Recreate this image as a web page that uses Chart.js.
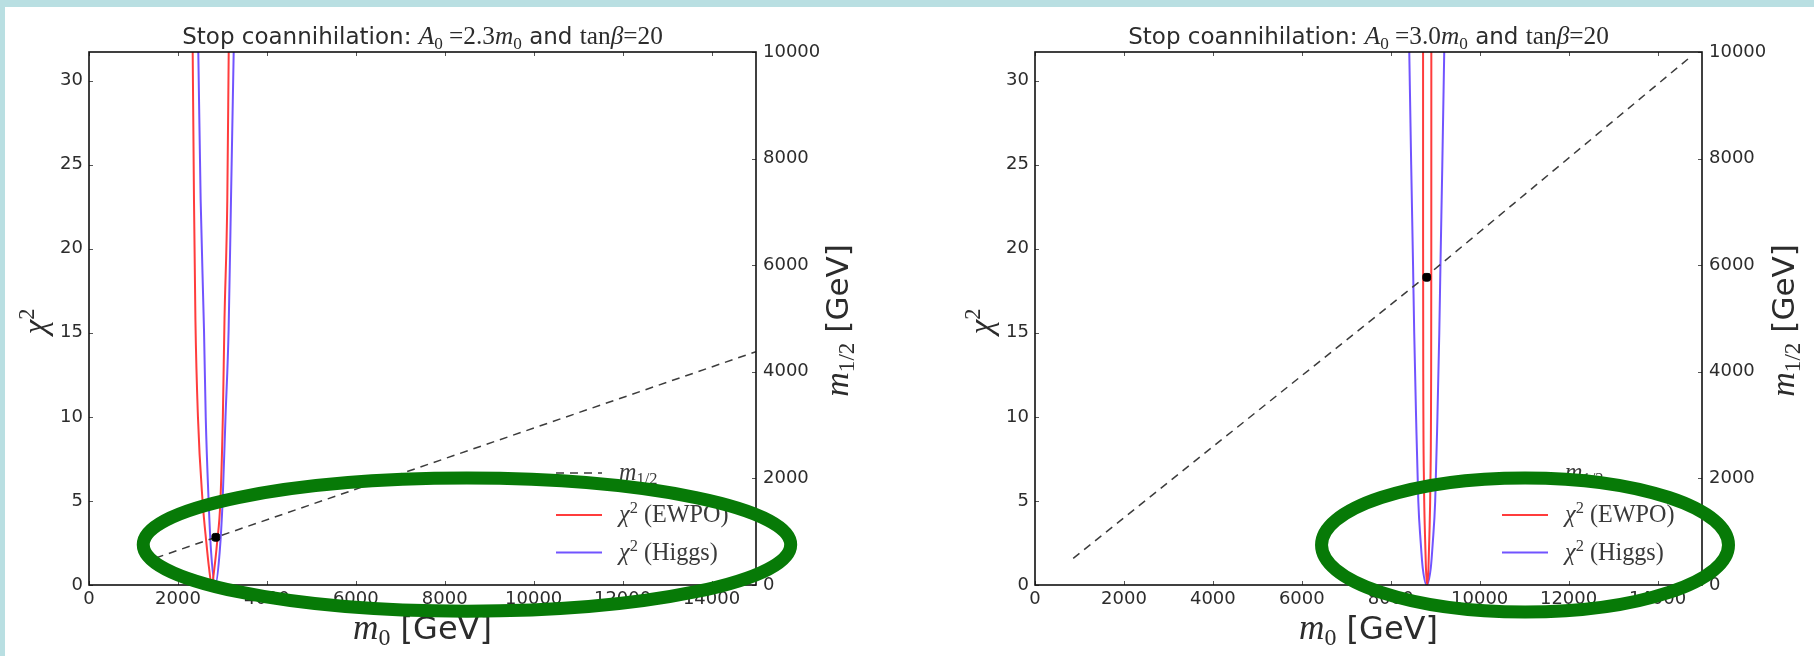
<!DOCTYPE html>
<html>
<head>
<meta charset="utf-8">
<script src="https://cdn.jsdelivr.net/npm/chart.js@4/dist/chart.umd.min.js"></script>
<style>
  html, body { margin: 0; padding: 0; width: 1814px; height: 656px; overflow: hidden; background: #b9dfe2; }
  #sheet { position: absolute; left: 5px; top: 7px; right: 0; bottom: 0; background: #fff; }
  canvas { position: absolute; top: 0; }
  #panelA { left: 0; }
  #panelB { left: 907px; }
</style>
</head>
<body>
<div id="sheet"></div>
<canvas id="panelA" width="907" height="656"></canvas>
<canvas id="panelB" width="907" height="656"></canvas>
<script>
// tick values shared by both panels
const m0Ticks = [0, 2000, 4000, 6000, 8000, 10000, 12000, 14000];
const chi2Ticks = [0, 5, 10, 15, 20, 25, 30];
const mHalfTicks = [0, 2000, 4000, 6000, 8000, 10000];

// A0 = 2.3 m0, tan(beta) = 20
const ewpoM0A = [2332, 2361, 2393, 2450, 2554, 2640, 2700, 2760, 2820, 2880, 2955, 3010, 3047, 3110, 3142];
const ewpoChi2A = [31.7, 22.9, 15.8, 10, 5, 2.5, 1, 0, 1, 2.5, 5, 10, 15.8, 22.9, 31.7];
const higgsM0A = [2458, 2511, 2586, 2625, 2690, 2745, 2840, 2940, 3005, 3070, 3140, 3193, 3254];
const higgsChi2A = [31.7, 22.9, 15.2, 10, 5, 2, 0, 2, 5, 10, 15.2, 22.9, 31.7];
const lineM0A = [1498, 15000];
const lineMHalfA = [507, 4377];
const bestM0A = [2852];
const bestMHalfA = [895];

// A0 = 3.0 m0, tan(beta) = 20
const ewpoM0B = [8727, 8728, 8732, 8748, 8770, 8792, 8820, 8848, 8870, 8892, 8908, 8912, 8913];
const ewpoChi2B = [31.7, 20, 12, 6, 3, 1, 0, 1, 3, 6, 12, 20, 31.7];
const higgsM0B = [8417, 8460, 8502, 8528, 8570, 8620, 8675, 8720, 8810, 8900, 8945, 9000, 9050, 9092, 9118, 9160, 9203];
const higgsChi2B = [31.7, 25, 19, 15, 10, 5, 2.5, 1, 0, 1, 2.5, 5, 10, 15, 19, 25, 31.7];
const lineM0B = [859, 8809, 14700];
const lineMHalfB = [501, 5800, 9880];
const bestM0B = [8809];
const bestMHalfB = [5773];

// highlight rings, in data units (m0, chi2)
const ringA = { m0: 8500, chi2: 2.4, dm0: 7280, dchi2: 3.96 };
const ringB = { m0: 11020, chi2: 2.38, dm0: 4576, dchi2: 3.99 };

// rich text runs: [text, style, shift]  style s=sans, r=serif, i=serif italic; shift -1 sub, 1 sup
const titleA = [['Stop coannihilation: ', 's'], ['A', 'i'], ['0', 'r', -1], [' =2.3', 'r'], ['m', 'i'], ['0', 'r', -1], [' and ', 's'], ['tan', 'r'], ['β', 'i'], ['=20', 'r']];
const titleB = [['Stop coannihilation: ', 's'], ['A', 'i'], ['0', 'r', -1], [' =3.0', 'r'], ['m', 'i'], ['0', 'r', -1], [' and ', 's'], ['tan', 'r'], ['β', 'i'], ['=20', 'r']];
const xTitle = [['m', 'i'], ['0', 'r', -1], [' [GeV]', 's']];
const yTitle = [['χ', 'i'], ['2', 'r', 1]];
const y1Title = [['m', 'i'], ['1/2', 'r', -1], [' [GeV]', 's']];
const legendRuns = [
  [['m', 'i'], ['1/2', 'r', -1]],
  [['χ', 'i'], ['2', 'r', 1], [' (EWPO)', 'r']],
  [['χ', 'i'], ['2', 'r', 1], [' (Higgs)', 'r']]
];

const SANS = '"DejaVu Sans", sans-serif';
const SERIF = '"Liberation Serif", "DejaVu Serif", serif';
const INK = '#2c2c2c';

function styleFont(style, px) {
  if (style === 's') return px + 'px ' + SANS;
  if (style === 'i') return 'italic ' + (px * 1.1) + 'px ' + SERIF;
  return (px * 1.1) + 'px ' + SERIF;
}
function runSize(run, size) { return run[2] ? size * 0.68 : size; }
function measureRuns(ctx, runs, size) {
  let w = 0;
  runs.forEach(r => { ctx.font = styleFont(r[1], runSize(r, size)); w += ctx.measureText(r[0]).width; });
  return w;
}
function drawRuns(ctx, runs, size, x, y, align) {
  let cx = align === 'center' ? x - measureRuns(ctx, runs, size) / 2 : x;
  ctx.textAlign = 'left';
  ctx.textBaseline = 'alphabetic';
  runs.forEach(r => {
    ctx.font = styleFont(r[1], runSize(r, size));
    const dy = r[2] === -1 ? size * 0.2 : (r[2] === 1 ? -size * 0.4 : 0);
    ctx.fillText(r[0], cx, y + dy);
    cx += ctx.measureText(r[0]).width;
  });
}
function drawRotated(ctx, runs, size, x, y) {
  ctx.save();
  ctx.translate(x, y);
  ctx.rotate(-Math.PI / 2);
  drawRuns(ctx, runs, size, 0, 0, 'center');
  ctx.restore();
}

const decor = {
  id: 'decor',
  afterDatasetsDraw(chart, args, opts) {
    const { ctx, chartArea: a, scales } = chart;
    ctx.save();
    // inward tick marks on all four sides
    ctx.strokeStyle = '#555';
    ctx.lineWidth = 1;
    ctx.beginPath();
    m0Ticks.forEach(v => {
      const p = Math.round(scales.x.getPixelForValue(v)) + 0.5;
      ctx.moveTo(p, a.bottom); ctx.lineTo(p, a.bottom - 4);
      ctx.moveTo(p, a.top); ctx.lineTo(p, a.top + 4);
    });
    chi2Ticks.forEach(v => {
      const p = Math.round(scales.y.getPixelForValue(v)) + 0.5;
      ctx.moveTo(a.left, p); ctx.lineTo(a.left + 4, p);
    });
    mHalfTicks.forEach(v => {
      const p = Math.round(scales.y1.getPixelForValue(v)) + 0.5;
      ctx.moveTo(a.right, p); ctx.lineTo(a.right - 4, p);
    });
    ctx.stroke();

    // axes frame
    ctx.strokeStyle = '#111';
    ctx.lineWidth = 1.6;
    ctx.strokeRect(a.left, a.top, a.right - a.left, a.bottom - a.top);

    // legend, lower right inside the axes
    const rows = [112, 70, 32.5];
    ['mhalf', 'ewpo', 'higgs'].forEach((key, i) => {
      const ds = chart.data.datasets.find(d => d.key === key);
      const y = a.bottom - rows[i];
      ctx.strokeStyle = ds.borderColor;
      ctx.lineWidth = ds.borderWidth;
      ctx.setLineDash(ds.borderDash || []);
      ctx.beginPath();
      ctx.moveTo(a.right - 200, y);
      ctx.lineTo(a.right - 154, y);
      ctx.stroke();
      ctx.setLineDash([]);
      ctx.fillStyle = '#3a3a3a';
      drawRuns(ctx, legendRuns[i], 22, a.right - 137, y + 7, 'left');
    });
    ctx.restore();
  },
  afterDraw(chart, args, opts) {
    const { ctx, chartArea: a, scales } = chart;
    const midX = (a.left + a.right) / 2;
    const midY = (a.top + a.bottom) / 2;
    ctx.save();
    ctx.fillStyle = INK;
    drawRuns(ctx, opts.title, 23, midX, a.top - 8, 'center');
    drawRuns(ctx, xTitle, 32, midX, a.bottom + 54, 'center');
    drawRotated(ctx, yTitle, 30, a.left - 43, midY + 3);
    drawRotated(ctx, y1Title, 31, a.right + 92, midY + 2);

    // green highlight ring
    const r = opts.ring;
    const cx = scales.x.getPixelForValue(r.m0);
    const cy = scales.y.getPixelForValue(r.chi2);
    const rx = scales.x.getPixelForValue(r.m0 + r.dm0) - cx;
    const ry = cy - scales.y.getPixelForValue(r.chi2 + r.dchi2);
    ctx.strokeStyle = '#077a07';
    ctx.lineWidth = 13;
    ctx.beginPath();
    ctx.ellipse(cx, cy, rx, ry, 0, 0, Math.PI * 2);
    ctx.stroke();
    ctx.restore();
  }
};

const pts = (xs, ys) => xs.map((x, i) => ({ x: x, y: ys[i] }));
const tickFont = { family: '"DejaVu Sans"', size: 18 };
const plainTick = v => String(v);

function buildPanel(id, d) {
  return new Chart(document.getElementById(id), {
    type: 'line',
    data: {
      datasets: [
        { key: 'best', data: pts(d.bestM0, d.bestMHalf), yAxisID: 'y1', showLine: false, order: 0,
          pointStyle: 'rectRounded', pointRadius: 4.5, backgroundColor: '#000', borderColor: '#000' },
        { key: 'mhalf', data: pts(d.lineM0, d.lineMHalf), yAxisID: 'y1', order: 1,
          borderColor: '#3c3c3c', borderWidth: 1.5, borderDash: [8, 6], pointRadius: 0 },
        { key: 'ewpo', data: pts(d.ewpoM0, d.ewpoChi2), yAxisID: 'y', order: 2,
          borderColor: 'rgba(255,50,50,0.95)', borderWidth: 2, pointRadius: 0, cubicInterpolationMode: 'monotone' },
        { key: 'higgs', data: pts(d.higgsM0, d.higgsChi2), yAxisID: 'y', order: 3,
          borderColor: 'rgba(105,75,255,0.95)', borderWidth: 2, pointRadius: 0, cubicInterpolationMode: 'monotone' }
      ]
    },
    options: {
      responsive: false,
      animation: false,
      devicePixelRatio: 1,
      layout: { padding: { top: 52, left: 0, right: 0, bottom: 0 } },
      plugins: {
        legend: { display: false },
        tooltip: { enabled: false },
        decor: { title: d.title, ring: d.ring }
      },
      scales: {
        x: {
          type: 'linear', position: 'bottom', min: 0, max: 15000,
          grid: { display: false, drawTicks: false }, border: { display: false },
          afterBuildTicks: s => { s.ticks = m0Ticks.map(v => ({ value: v })); },
          afterFit: s => { s.height = 71; },
          ticks: { font: tickFont, color: INK, padding: 4, maxRotation: 0, autoSkip: false, callback: plainTick }
        },
        y: {
          type: 'linear', position: 'left', min: 0, max: 31.7,
          grid: { display: false, drawTicks: false }, border: { display: false },
          afterBuildTicks: s => { s.ticks = chi2Ticks.map(v => ({ value: v })); },
          afterFit: s => { s.width = d.leftWidth; },
          ticks: { font: tickFont, color: INK, padding: 6, callback: plainTick }
        },
        y1: {
          type: 'linear', position: 'right', min: 0, max: 10000,
          grid: { display: false, drawTicks: false }, border: { display: false },
          afterBuildTicks: s => { s.ticks = mHalfTicks.map(v => ({ value: v })); },
          afterFit: s => { s.width = d.rightWidth; },
          ticks: { font: tickFont, color: INK, padding: 7, callback: plainTick }
        }
      }
    },
    plugins: [decor]
  });
}

buildPanel('panelA', {
  title: titleA, ring: ringA, leftWidth: 89, rightWidth: 151,
  ewpoM0: ewpoM0A, ewpoChi2: ewpoChi2A, higgsM0: higgsM0A, higgsChi2: higgsChi2A,
  lineM0: lineM0A, lineMHalf: lineMHalfA, bestM0: bestM0A, bestMHalf: bestMHalfA
});
buildPanel('panelB', {
  title: titleB, ring: ringB, leftWidth: 128, rightWidth: 112,
  ewpoM0: ewpoM0B, ewpoChi2: ewpoChi2B, higgsM0: higgsM0B, higgsChi2: higgsChi2B,
  lineM0: lineM0B, lineMHalf: lineMHalfB, bestM0: bestM0B, bestMHalf: bestMHalfB
});
</script>
</body>
</html>
